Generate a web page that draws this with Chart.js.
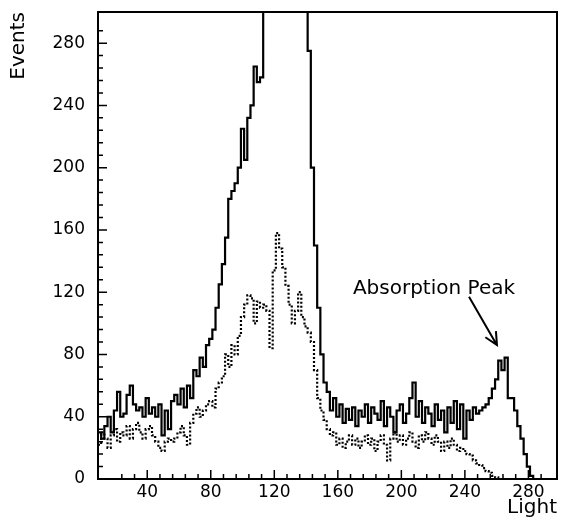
<!DOCTYPE html>
<html>
<head>
<meta charset="utf-8">
<script src="https://cdn.jsdelivr.net/npm/chart.js@4.4.0/dist/chart.umd.min.js"></script>
<style>
  html, body { margin: 0; padding: 0; background: #fff; }
  #wrap { width: 561px; height: 523px; }
</style>
</head>
<body>
<div id="wrap"><canvas id="light_chart"></canvas></div>
<script>
// histogram binning (Light units)
const binStart = 9;
const binWidth = 2;

// solid histogram, the big peak runs off the top of the frame
const solidCounts = [
  30, 26, 34, 40, 30, 44, 56, 40, 42, 54,
  60, 48, 44, 46, 40, 52, 42, 46, 40, 48,
  28, 44, 32, 50, 54, 48, 58, 46, 60, 52,
  70, 66, 78, 72, 86, 90, 96, 110, 125, 138,
  155, 180, 185, 190, 200, 225, 205, 232, 240, 265,
  255, 258, 320, 340, 360, 380, 400, 410, 420, 410,
  400, 380, 360, 340, 320, 310, 275, 200, 150, 110,
  80, 62, 56, 44, 52, 40, 48, 36, 45, 38,
  46, 34, 44, 40, 48, 36, 46, 42, 38, 50,
  34, 46, 40, 30, 44, 48, 36, 42, 52, 62,
  40, 50, 36, 46, 42, 34, 48, 38, 44, 30,
  46, 36, 50, 32, 48, 26, 44, 38, 46, 42,
  44, 46, 48, 52, 58, 64, 76, 70, 78, 52,
  52, 44, 34, 26, 16, 8, 2, 0, 0, 0,
  0, 0, 0, 0
];

// dotted histogram
const dottedCounts = [
  22, 30, 26, 20, 28, 32, 24, 30, 28, 34,
  26, 32, 36, 30, 26, 32, 34, 28, 24, 20,
  18, 24, 26, 24, 26, 30, 34, 28, 22, 36,
  42, 46, 40, 44, 48, 50, 46, 58, 62, 66,
  80, 72, 86, 80, 92, 104, 112, 118, 116, 100,
  114, 110, 112, 108, 84, 134, 158, 148, 136, 124,
  112, 100, 108, 120, 104, 98, 94, 88, 70, 52,
  44, 38, 32, 28, 30, 22, 26, 20, 24, 28,
  22, 26, 20, 24, 28, 22, 26, 18, 24, 28,
  22, 12, 26, 30, 24, 28, 22, 26, 30, 24,
  20, 28, 24, 30, 26, 22, 28, 24, 18, 24,
  20, 26, 22, 18, 20, 18, 16, 15, 12, 10,
  9, 7, 5, 4, 2, 1, 0, 0, 0, 0,
  0, 0, 0, 0, 0, 0, 0, 0, 0, 0,
  0, 0, 0, 0
];

const xLabels = [40, 80, 120, 160, 200, 240, 280];
const yLabels = [0, 40, 80, 120, 160, 200, 240, 280];

// note on the right peak, in data units
const peakNote = { text: "Absorption Peak", x: 169.5, y: 119 };
const peakArrow = { fromX: 242.6, fromY: 117, toX: 260.2, toY: 86 };

// each count is held over its whole bin
const toSteps = (counts) => {
  const pts = counts.map((v, i) => ({ x: binStart + i * binWidth, y: v }));
  pts.push({ x: binStart + counts.length * binWidth, y: counts[counts.length - 1] });
  return pts;
};

const font = "DejaVu Sans";

// frame, inward tick marks and the note
const framePlugin = {
  id: "frame",
  afterDatasetsDraw(chart) {
    const { ctx, chartArea: a, scales } = chart;
    const x = scales.x, y = scales.y;
    ctx.save();
    ctx.strokeStyle = "#000";
    ctx.lineWidth = 2;
    ctx.strokeRect(a.left, a.top, a.right - a.left, a.bottom - a.top);

    ctx.lineWidth = 1.5;
    ctx.beginPath();
    x.ticks.forEach((t) => {
      if (t.value % 8) return;
      const px = x.getPixelForValue(t.value);
      const len = t.value % 40 === 0 ? 9 : 5;
      ctx.moveTo(px, a.bottom);
      ctx.lineTo(px, a.bottom - len);
    });
    y.ticks.forEach((t) => {
      if (t.value % 8 || t.value === 0) return;
      const py = y.getPixelForValue(t.value);
      const len = t.value % 40 === 0 ? 9 : 5;
      ctx.moveTo(a.left, py);
      ctx.lineTo(a.left + len, py);
    });
    ctx.stroke();

    ctx.fillStyle = "#000";
    ctx.font = "20px '" + font + "'";
    ctx.textBaseline = "alphabetic";
    ctx.fillText(peakNote.text, x.getPixelForValue(peakNote.x), y.getPixelForValue(peakNote.y));

    const x1 = x.getPixelForValue(peakArrow.fromX), y1 = y.getPixelForValue(peakArrow.fromY);
    const x2 = x.getPixelForValue(peakArrow.toX), y2 = y.getPixelForValue(peakArrow.toY);
    const ang = Math.atan2(y2 - y1, x2 - x1);
    ctx.lineWidth = 2;
    ctx.beginPath();
    ctx.moveTo(x1, y1);
    ctx.lineTo(x2, y2);
    ctx.moveTo(x2 - 14 * Math.cos(ang - 0.45), y2 - 14 * Math.sin(ang - 0.45));
    ctx.lineTo(x2, y2);
    ctx.lineTo(x2 - 14 * Math.cos(ang + 0.45), y2 - 14 * Math.sin(ang + 0.45));
    ctx.stroke();
    ctx.restore();
  }
};

const data = {
  datasets: [
    {
      label: "solid",
      data: toSteps(solidCounts),
      stepped: "before",
      borderColor: "#000",
      borderWidth: 2.2,
      pointRadius: 0,
      fill: false,
    },
    {
      label: "dotted",
      data: toSteps(dottedCounts),
      stepped: "before",
      borderColor: "#000",
      borderWidth: 2.2,
      borderDash: [2, 2],
      pointRadius: 0,
      fill: false,
    },
  ],
};

const config = {
  type: "line",
  data: data,
  options: {
    responsive: true,
    maintainAspectRatio: false,
    animation: false,
    layout: { padding: { top: 12, right: 4, left: 0, bottom: 0 } },
    plugins: { legend: { display: false }, tooltip: { enabled: false } },
    scales: {
      x: {
        type: "linear",
        min: 9,
        max: 298,
        grid: { display: false, drawTicks: false },
        border: { display: false },
        ticks: {
          stepSize: 8,
          autoSkip: false,
          maxRotation: 0,
          padding: 3,
          color: "#000",
          font: { family: font, size: 17 },
          callback: (v) => (xLabels.includes(v) ? v : ""),
        },
        title: {
          display: true,
          text: "Light",
          align: "end",
          color: "#000",
          font: { family: font, size: 20 },
          padding: { top: 0, bottom: 3 },
        },
        afterFit: (scale) => {
          scale.height = 44;
          scale.paddingLeft = 0;
          scale.paddingRight = 0;
        },
      },
      y: {
        min: 0,
        max: 300,
        grid: { display: false, drawTicks: false },
        border: { display: false },
        ticks: {
          stepSize: 8,
          autoSkip: false,
          padding: 13,
          color: "#000",
          font: { family: font, size: 17 },
          callback: (v) => (yLabels.includes(v) ? v : ""),
        },
        title: {
          display: true,
          text: "Events",
          align: "end",
          color: "#000",
          font: { family: font, size: 20 },
          padding: { top: 7, bottom: 0 },
        },
        afterFit: (scale) => {
          scale.width = 98;
          scale.paddingTop = 0;
          scale.paddingBottom = 0;
        },
      },
    },
  },
  plugins: [framePlugin],
};

const myChart = new Chart(document.getElementById("light_chart"), config);
</script>
</body>
</html>
